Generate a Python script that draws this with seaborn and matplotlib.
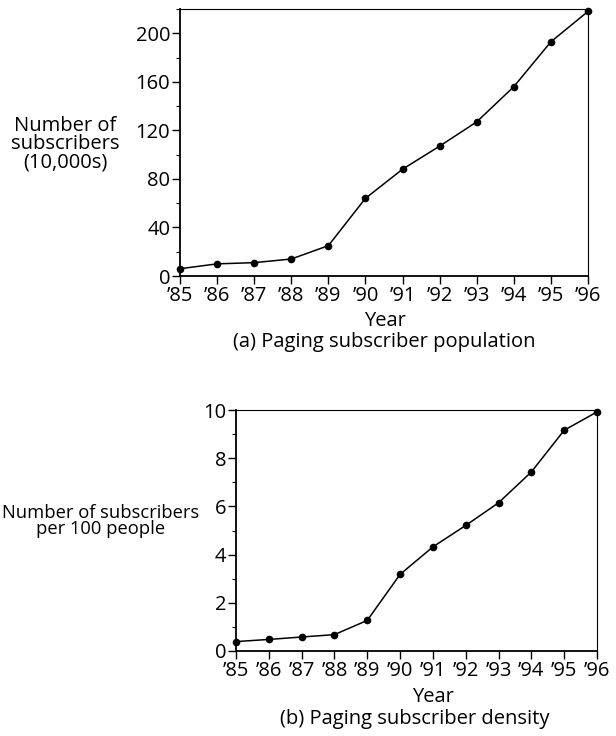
import pandas as pd
import seaborn as sns
from matplotlib import pyplot as plt
from matplotlib.ticker import MultipleLocator

# values
years = [1985, 1986, 1987, 1988, 1989, 1990, 1991, 1992, 1993, 1994, 1995, 1996]
year_labels = ['\u201985', '\u201986', '\u201987', '\u201988', '\u201989', '\u201990',
               '\u201991', '\u201992', '\u201993', '\u201994', '\u201995', '\u201996']
subscribers = [6, 10, 11, 14, 25, 64, 88, 107, 127, 156, 193, 218]      # 10,000s
density = [0.39, 0.48, 0.58, 0.68, 1.27, 3.18, 4.32, 5.21, 6.15, 7.43, 9.16, 9.92]  # per 100 people

df = pd.DataFrame({'year': years, 'subscribers': subscribers, 'density': density})

sns.set_style('white')
plt.rcParams['font.family'] = ['Open Sans', 'DejaVu Sans']
plt.rcParams['font.size'] = 14.5
plt.rcParams['font.weight'] = 500
plt.rcParams['text.color'] = 'black'
plt.rcParams['xtick.color'] = 'black'
plt.rcParams['ytick.color'] = 'black'

fig = plt.figure(figsize=(6.16, 7.36), dpi=100)
W, H = 616, 736


def px_axes(left, top, right, bottom):
    return fig.add_axes([left / W, 1 - bottom / H, (right - left) / W, (bottom - top) / H])


def style(ax, ymax, major, minor):
    sns.lineplot(data=df, x='year', y=ax.get_label(), ax=ax, color='black',
                 linewidth=1.1, marker='o', markersize=5.5, markeredgewidth=0,
                 clip_on=False)
    ax.set_xlim(1985, 1996)
    ax.set_ylim(0, ymax)
    ax.set_xticks(years)
    ax.set_xticklabels(year_labels)
    ax.yaxis.set_major_locator(MultipleLocator(major))
    ax.yaxis.set_minor_locator(MultipleLocator(minor))
    ax.tick_params(which='major', direction='out', length=6, width=1,
                   labelsize=14.5, pad=1)
    ax.tick_params(axis='y', which='minor', direction='out', length=3, width=0.8,
                   left=True)
    ax.tick_params(bottom=True, left=True)
    ax.set_xlabel('')
    ax.set_ylabel('')
    for side in ['left', 'bottom']:
        ax.spines[side].set_linewidth(1.3)
        ax.spines[side].set_color('black')
    for side in ['top', 'right']:
        ax.spines[side].set_linewidth(0.8)
        ax.spines[side].set_color('black')


# (a) subscriber population
ax1 = px_axes(180, 9, 588, 276)
ax1.set_label('subscribers')
style(ax1, 220, 40, 20)
fig.text(65 / W, 1 - 144 / H, 'Number of\nsubscribers\n(10,000s)', ha='center',
         va='center', linespacing=0.88)
fig.text(385 / W, 1 - 321 / H, 'Year', ha='center', va='center')
fig.text(384 / W, 1 - 342 / H, '(a) Paging subscriber population', ha='center', va='center')

# (b) subscriber density
ax2 = px_axes(236, 410, 597, 651)
ax2.set_label('density')
style(ax2, 10, 2, 1)
fig.text(101 / W, 1 - 521 / H, 'Number of subscribers\nper 100 people', ha='center',
         va='center', linespacing=0.88, fontsize=13.2)
fig.text(433 / W, 1 - 697 / H, 'Year', ha='center', va='center')
fig.text(415 / W, 1 - 719 / H, '(b) Paging subscriber density', ha='center', va='center')

fig.savefig('out.png', dpi=100)
